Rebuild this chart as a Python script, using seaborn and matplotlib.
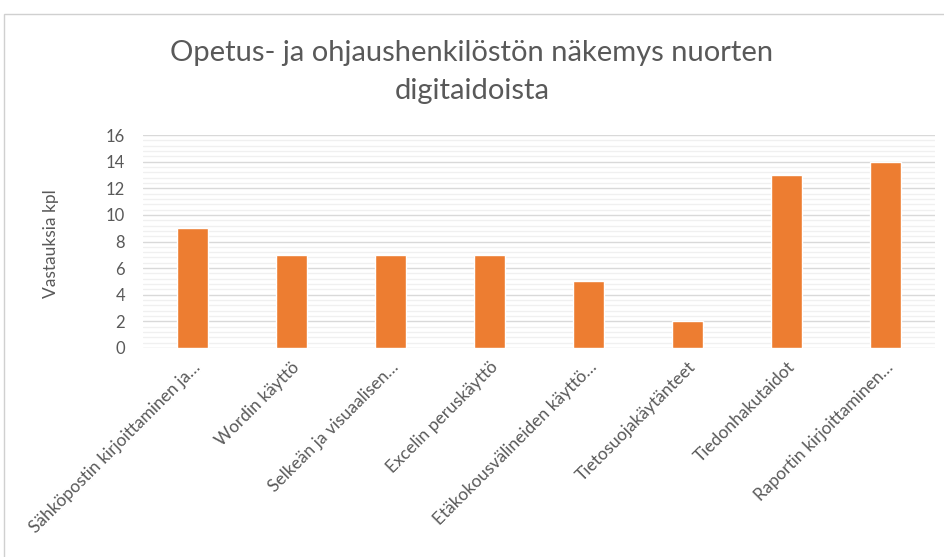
import matplotlib
matplotlib.use("Agg")
import matplotlib.pyplot as plt
import seaborn as sns
import pandas as pd
from matplotlib.ticker import MultipleLocator
from matplotlib.patches import Rectangle

categories = [
    "Sähköpostin kirjoittaminen ja…",
    "Wordin käyttö",
    "Selkeän ja visuaalisen…",
    "Excelin peruskäyttö",
    "Etäkokousvälineiden käyttö…",
    "Tietosuojakäytänteet",
    "Tiedonhakutaidot",
    "Raportin kirjoittaminen…",
]
values = [9, 7, 7, 7, 5, 2, 13, 14]
title = "Opetus- ja ohjaushenkilöstön näkemys nuorten\ndigitaidoista"
ylabel = "Vastauksia kpl"

sns.set_theme(style="white")
plt.rcParams["font.family"] = ["Lato", "DejaVu Sans"]
text_color = "#595959"

df = pd.DataFrame({"cat": categories, "val": values})

fig = plt.figure(figsize=(9.44, 5.57), dpi=100)
ax = fig.add_axes([143 / 944, 1 - 348 / 557, (935 - 143) / 944, (348 - 135) / 557])

sns.barplot(data=df, x="cat", y="val", color="#ED7D31", width=0.32,
            saturation=1, ax=ax, zorder=3)

ax.set_ylim(0, 16)
ax.set_xlim(-0.5, len(categories) - 0.5)
ax.yaxis.set_major_locator(MultipleLocator(2))
ax.yaxis.set_minor_locator(MultipleLocator(0.4))
ax.grid(axis="y", which="major", color="#d9d9d9", linewidth=1.0, zorder=0)
ax.grid(axis="y", which="minor", color="#f0f0f0", linewidth=1.0, zorder=0)
ax.set_axisbelow(True)
for s in ax.spines.values():
    s.set_visible(False)
ax.tick_params(axis="both", which="both", length=0, colors=text_color)
ax.tick_params(axis="x", labelsize=12.5, pad=8)
ax.tick_params(axis="y", labelsize=12, pad=13)
ax.set_xlabel("")
ax.set_ylabel(ylabel, color=text_color, fontsize=12.5)
ax.yaxis.set_label_coords((59 - 143) / 792, 0.49)
plt.setp(ax.get_xticklabels(), rotation=45, ha="right", rotation_mode="anchor")

fig.text(0.5, 1 - 72 / 557, title, ha="center", va="center", fontsize=21,
         color=text_color, linespacing=1.55)

fig.patches.append(Rectangle((4 / 944, -0.1), 1.2, 1 - 14 / 557 + 0.1,
                             transform=fig.transFigure, fill=False,
                             edgecolor="#d0d0d0", linewidth=1.0))

fig.savefig("out.png", dpi=100, facecolor="white")
